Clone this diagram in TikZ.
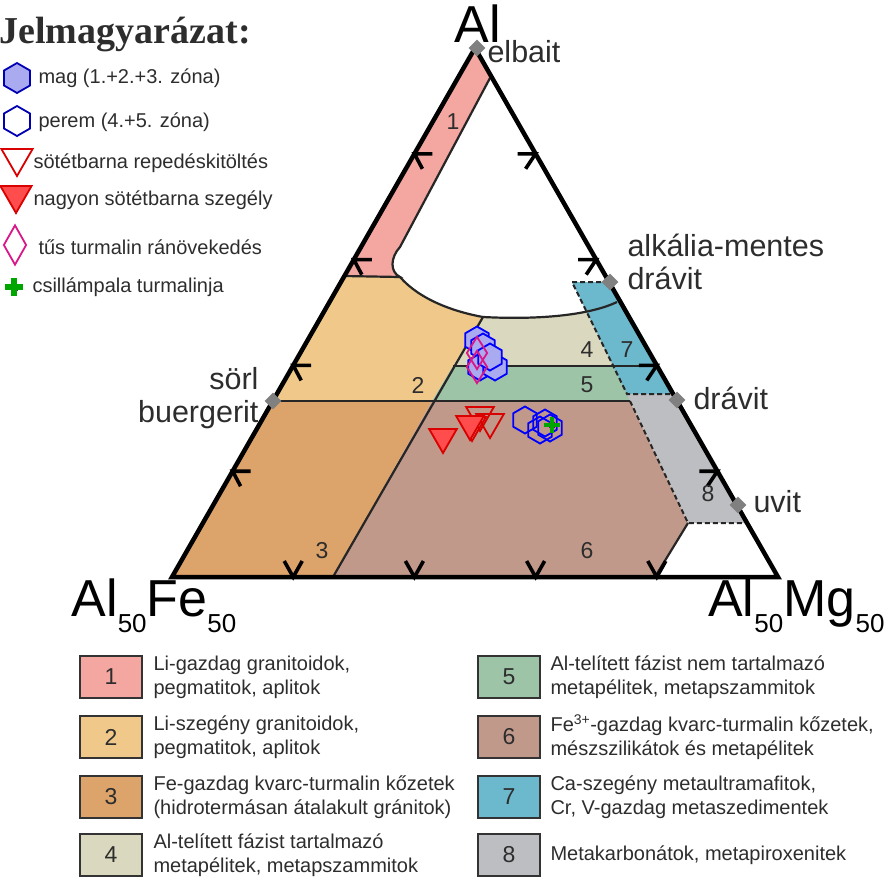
\documentclass[tikz,border=0pt]{standalone}
\usepackage{fontspec}
\setmainfont{Liberation Sans}
\newfontfamily\titlefont{Liberation Serif}
\usetikzlibrary{shapes.geometric,calc}

\definecolor{reg1}{RGB}{244,166,160}
\definecolor{reg2}{RGB}{240,201,138}
\definecolor{reg3}{RGB}{220,163,106}
\definecolor{reg4}{RGB}{218,216,190}
\definecolor{reg5}{RGB}{158,196,168}
\definecolor{reg6}{RGB}{193,153,138}
\definecolor{reg7}{RGB}{108,184,204}
\definecolor{reg8}{RGB}{189,190,194}
\definecolor{txt}{RGB}{45,45,45}
\definecolor{hexfill}{RGB}{170,170,240}

\newcommand\lowsub[1]{\raisebox{-0.3em}{\fontsize{26}{26}\selectfont #1}}

\tikzset{
  border/.style={line width=2.2pt,draw=black!85},
  dashborder/.style={line width=2pt,draw=black!85,dash pattern=on 5pt off 3pt},
  tick/.style={line width=3.6pt,black},
  endmember/.style={diamond,fill=gray,inner sep=0pt,minimum size=17pt},
  regnum/.style={font=\fontsize{23}{23}\selectfont,text=txt},
  hexa/.style={regular polygon,regular polygon sides=6,shape border rotate=30,draw=blue,line width=1.8pt,inner sep=0pt,minimum size=27pt},
  tri/.style={regular polygon,regular polygon sides=3,shape border rotate=180,draw=red!85!black,line width=1.8pt,inner sep=0pt,minimum size=32pt},
  needle/.style={diamond,draw=magenta!80!violet,line width=1.8pt,inner sep=0pt,minimum width=21pt,minimum height=33pt,aspect=0.6},
  keybox/.style={draw=black!80,line width=2.5pt,minimum width=62pt,minimum height=42pt,font=\fontsize{23}{23}\selectfont,text=txt},
  keytext/.style={anchor=west,align=left,font=\fontsize{20}{24}\selectfont,text=txt},
  marktext/.style={anchor=west,font=\fontsize{20}{20}\selectfont,text=txt},
  corner/.style={font=\fontsize{52}{52}\selectfont},
  label/.style={font=\fontsize{30.5}{33}\selectfont,text=txt}
}

\begin{document}
\begin{tikzpicture}[x=1pt,y=-1pt]
  \useasboundingbox (0,0) rectangle (884,881);
  \coordinate (A) at (475,48);
  \coordinate (L) at (172,577);
  \coordinate (R) at (778,577);

  % fields
  \fill[reg1] (A) -- (344,276) -- (400,277) .. controls (390,272) and (390,258) .. (400,247) -- (490,78) -- cycle;
  \fill[reg2] (344,276) -- (400,277) .. controls (420,300) and (455,312) .. (483,317) -- (432,401) -- (273,401) -- cycle;
  \fill[reg3] (273,401) -- (432,401) -- (333,577) -- (L) -- cycle;
  \fill[reg4] (483,317) .. controls (540,320) and (590,315) .. (617,302) -- (658,366) -- (453,366) -- cycle;
  \fill[reg5] (453,366) -- (658,366) -- (677,401) -- (432,401) -- cycle;
  \fill[reg6] (432,401) -- (630,401) -- (688,523) -- (655,577) -- (333,577) -- cycle;
  \fill[reg7] (572,282) -- (609,282) -- (673,394) -- (627,394) -- cycle;
  \fill[reg8] (627,394) -- (673,394) -- (745,523) -- (688,523) -- (630,401) -- cycle;

  % field borders
  \draw[border] (344,276) -- (400,277) .. controls (390,272) and (390,258) .. (400,247) -- (490,78);
  \draw[border] (400,277) .. controls (420,300) and (455,312) .. (483,317) .. controls (540,320) and (590,315) .. (617,302);
  \draw[border] (483,317) -- (333,577);
  \draw[border] (453,366) -- (658,366);
  \draw[border] (273,401) -- (630,401);
  \draw[border] (688,523) -- (655,577);
  \draw[dashborder] (609,282) -- (572,282) -- (627,394) -- (673,394);
  \draw[dashborder] (630,401) -- (688,523) -- (745,523);

  % triangle and ticks
  \draw[line width=4.5pt,line join=miter] (A) -- (L) -- (R) -- cycle;
  \foreach \f in {0.2,0.4,0.6,0.8} {
    \draw[tick] ($(A)!\f!(L)$) ++(18,0) -- ++(-18,0) -- ++(8,15);
    \draw[tick] ($(A)!\f!(R)$) ++(-18,0) -- ++(18,0) -- ++(-10,15);
    \draw[tick] ($(L)!\f!(R)$) ++(-9,-16) -- ++(9,16) -- ++(9,-16);
  }

  % end members
  \node[endmember] (elb) at (477,48) {};
  \node[endmember] (amd) at (610,282) {};
  \node[endmember] (drv) at (677,400) {};
  \node[endmember] (uvt) at (738,505) {};
  \node[endmember] (srl) at (273,401) {};
  \node[corner] (al) at (478,24) {Al};
  \node[corner,anchor=west] (alfe) at (68,606) {Al\lowsub{50}Fe\lowsub{50}};
  \node[corner,anchor=east] (almg) at (888,606) {Al\lowsub{50}Mg\lowsub{50}};
  \node[label,anchor=west] at (484,52) {elbait};
  \node[label,anchor=west,align=left] at (624,262) {alkália-mentes\\drávit};
  \node[label,anchor=west] at (690,398) {drávit};
  \node[label,anchor=west] at (750,502) {uvit};
  \node[label,anchor=east,align=right] at (262,398) {sörl\\buergerit};

  % field numbers
  \node[regnum] at (453,122) {1};
  \node[regnum] at (418,385) {2};
  \node[regnum] at (322,551) {3};
  \node[regnum] at (587,350) {4};
  \node[regnum] at (587,385) {5};
  \node[regnum] at (587,551) {6};
  \node[regnum] at (627,350) {7};
  \node[regnum] at (708,494) {8};

  % data points
  \foreach \x/\y [count=\i] in {477/340,483/347,480/367,495/367,490/357}
    \node[hexa,fill=hexfill] (core\i) at (\x,\y) {};
  \foreach \x/\y [count=\i] in {477/353,477/367}
    \node[needle] (ndl\i) at (\x,\y) {};
  \foreach \x/\y [count=\i] in {525/420,545/423,540/430,550/428}
    \node[hexa] (rim\i) at (\x,\y) {};
  \node[draw=violet,fill=green!70!black,line width=0.8pt,inner sep=0pt,
        regular polygon,regular polygon sides=4,minimum size=6pt] (mica) at (552,425) {};
  \draw[green!65!black,line width=4.5pt] (mica.center) ++(-8,0) -- ++(16,0) (mica.center) ++(0,-8) -- ++(0,16);
  \foreach \x/\y [count=\i] in {480/415,490/422,472/425}
    \node[tri] (crack\i) at (\x,\y) {};
  \node[tri,fill=red!70] (edge1) at (443,437) {};
  \node[tri,fill=red!70] (edge2) at (470,424) {};

  % legend (markers)
  \node[font=\titlefont\bfseries\fontsize{38}{38}\selectfont,text=txt,anchor=west] (title) at (-4,34) {Jelmagyarázat:};
  \node[hexa,draw=blue!70!black,fill=hexfill,minimum size=30pt] (k1) at (17,78) {};
  \node[marktext] at (35,78) {mag (1.+2.+3. zóna)};
  \node[hexa,draw=blue!70!black,minimum size=30pt] (k2) at (17,121) {};
  \node[marktext] at (35,122) {perem (4.+5. zóna)};
  \node[tri,minimum size=36pt] (k3) at (17,158) {};
  \node[marktext] at (30,163) {sötétbarna repedéskitöltés};
  \node[tri,fill=red!70,minimum size=36pt] (k4) at (16,195) {};
  \node[marktext] at (30,200) {nagyon sötétbarna szegély};
  \node[needle,minimum width=23pt,minimum height=40pt] (k5) at (15,245) {};
  \node[marktext] at (35,247) {tűs turmalin ránövekedés};
  \node[draw=violet,fill=green!70!black,minimum size=6pt,inner sep=0pt] (k6) at (14,287) {};
  \draw[green!65!black,line width=6pt] (k6.center) ++(-9,0) -- ++(18,0) (k6.center) ++(0,-9) -- ++(0,18);
  \node[marktext] at (29,287) {csillámpala turmalinja};

  % legend (fields)
  \foreach \n/\c/\y/\t in {
      1/reg1/677/{Li-gazdag granitoidok,\\pegmatitok, aplitok},
      2/reg2/737/{Li-szegény granitoidok,\\pegmatitok, aplitok},
      3/reg3/797/{Fe-gazdag kvarc-turmalin kőzetek\\(hidrotermásan átalakult gránitok)},
      4/reg4/855/{Al-telített fázist tartalmazó\\metapélitek, metapszammitok}} {
    \node[keybox,fill=\c] (key\n) at (111,\y) {\n};
    \node[keytext] at (150,\y) {\t};
  }
  \foreach \n/\c/\y/\t in {
      5/reg5/677/{Al-telített fázist nem tartalmazó\\metapélitek, metapszammitok},
      6/reg6/737/{Fe\textsuperscript{3+}-gazdag kvarc-turmalin kőzetek,\\mészszilikátok és metapélitek},
      7/reg7/797/{Ca-szegény metaultramafitok,\\Cr, V-gazdag metaszedimentek},
      8/reg8/855/{Metakarbonátok, metapiroxenitek}} {
    \node[keybox,fill=\c] (key\n) at (509,\y) {\n};
    \node[keytext] at (547,\y) {\t};
  }
\end{tikzpicture}
\end{document}
